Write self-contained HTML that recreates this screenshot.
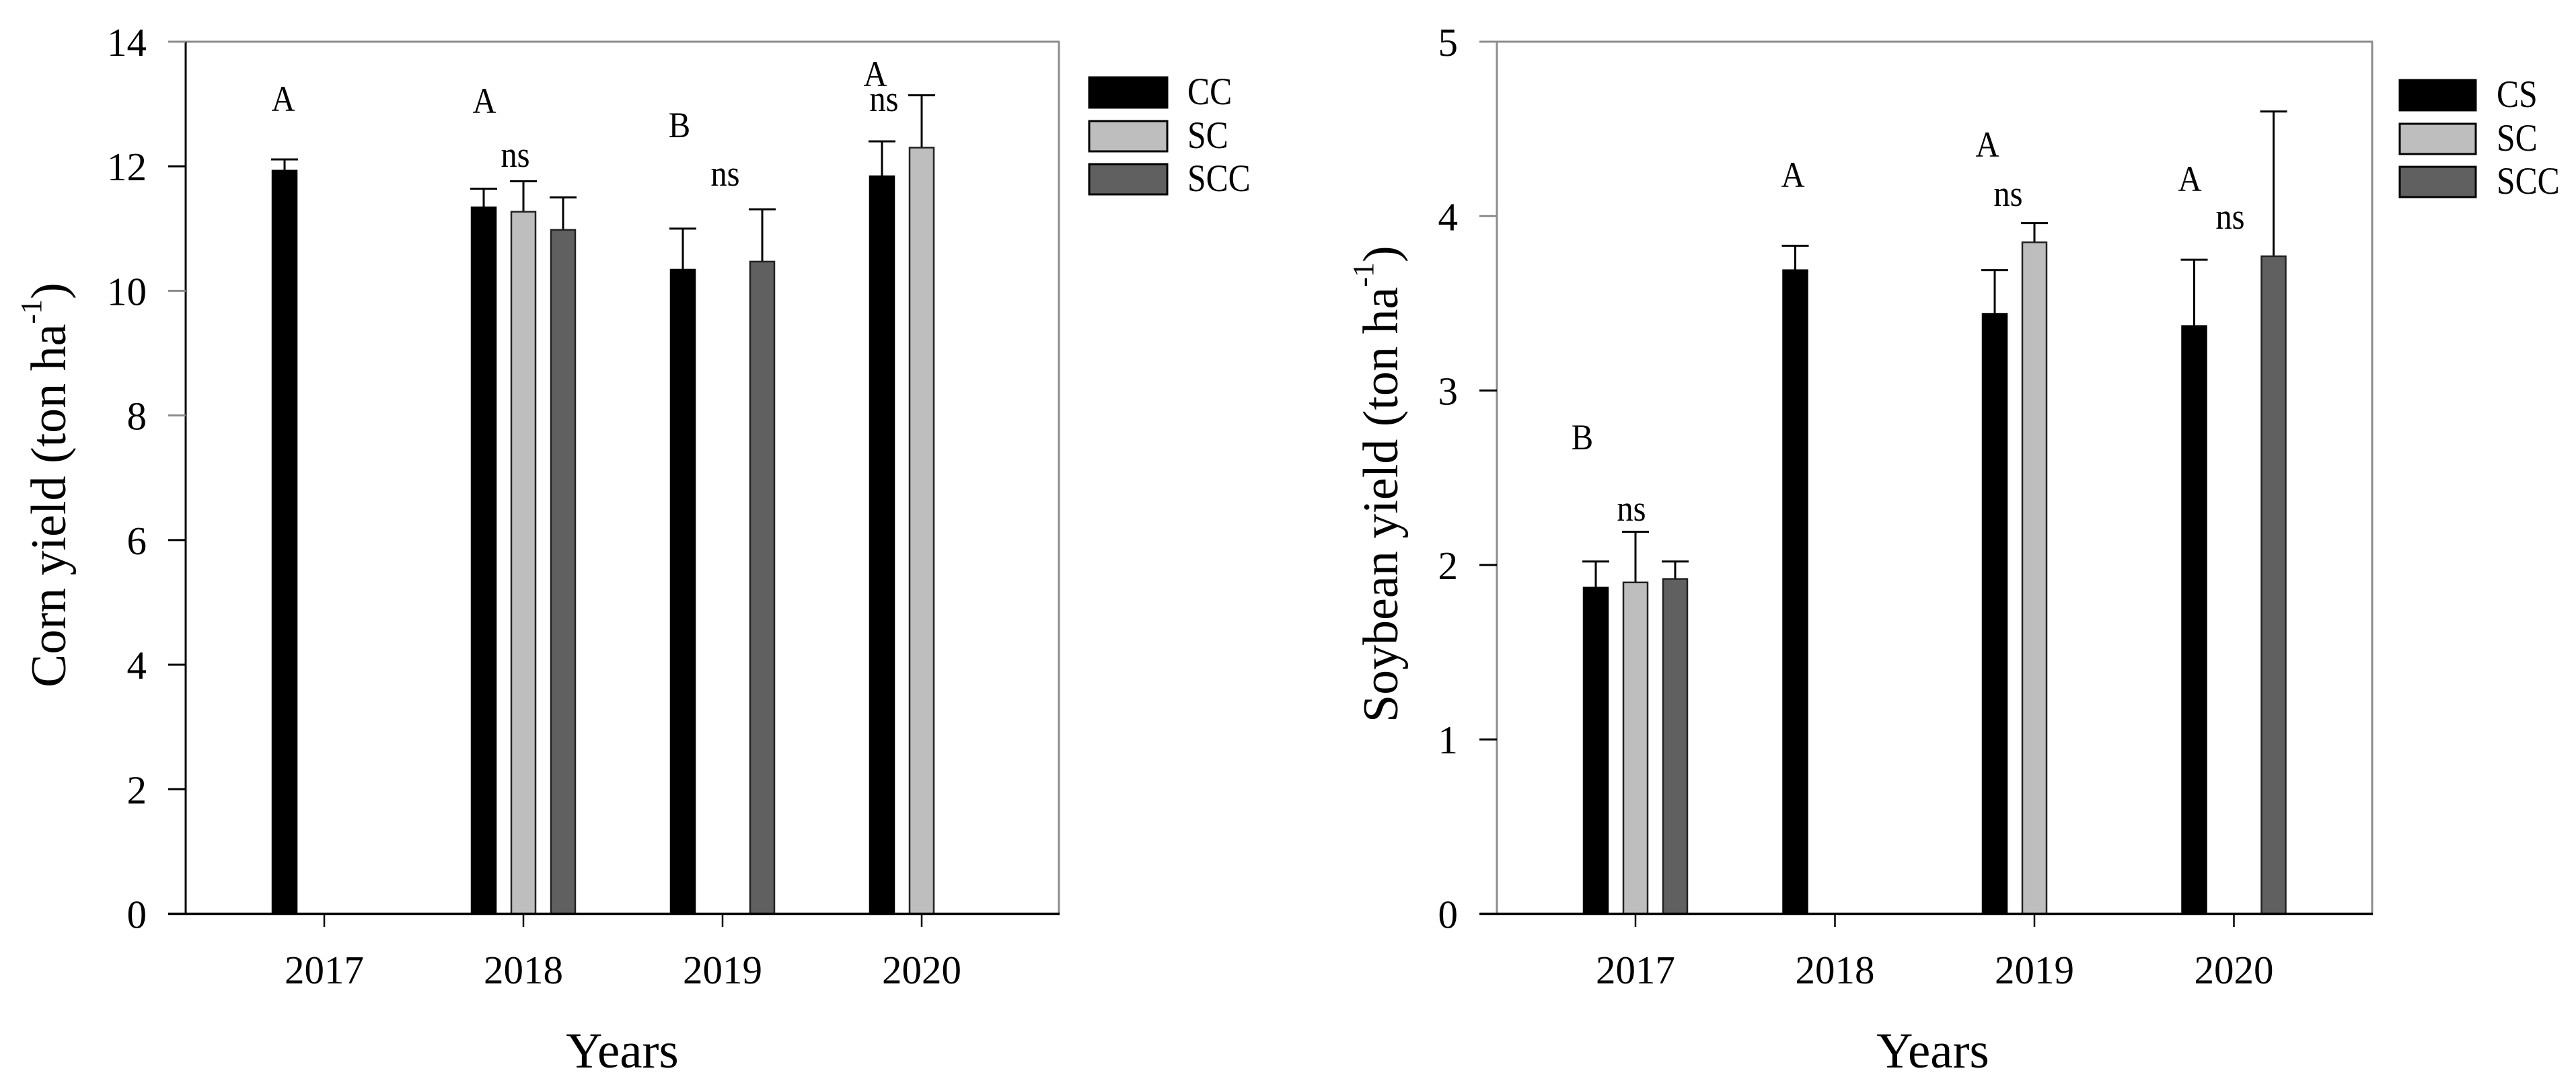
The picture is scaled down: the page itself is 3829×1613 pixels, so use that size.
<!DOCTYPE html>
<html lang="en">
<head>
<meta charset="utf-8">
<title>Corn and soybean yield by year</title>
<style>
html,body{margin:0;padding:0;background:#fff;}
svg{display:block;}
text{font-family:"Liberation Serif","Times New Roman",serif;fill:#000;}
.tick{font-size:59px;}
.note{font-size:54px;}
.legend{font-size:57px;}
.title{font-size:74px;}
.xtitle{font-size:75px;}
</style>
</head>
<body>
<svg id="figure" xmlns="http://www.w3.org/2000/svg" width="3829" height="1613" viewBox="0 0 3829 1613">
  <rect x="0" y="0" width="3829" height="1613" fill="#fff"/>

  <g id="corn-chart">
    <text class="title" transform="translate(97,1022) rotate(-90)">Corn yield (ton ha<tspan font-size="44" dy="-36">-1</tspan><tspan dy="36">)</tspan></text>
    <text class="xtitle" x="925" y="1587" text-anchor="middle">Years</text>
    <text class="note" x="421" y="165" text-anchor="middle">A</text>
    <text class="note" x="720" y="168" text-anchor="middle">A</text>
    <text class="note" x="766" y="248" text-anchor="middle">ns</text>
    <text class="note" x="1010" y="204" text-anchor="middle">B</text>
    <text class="note" x="1078" y="276" text-anchor="middle">ns</text>
    <text class="note" x="1301" y="128" text-anchor="middle">A</text>
    <text class="note" x="1314" y="165" text-anchor="middle">ns</text>
  </g>

  <g id="soy-chart">
    <text class="title" transform="translate(2077,1074) rotate(-90)">Soybean yield (ton ha<tspan font-size="44" dy="-36">-1</tspan><tspan dy="36">)</tspan></text>
    <text class="xtitle" x="2873" y="1587" text-anchor="middle">Years</text>
    <text class="note" x="2352" y="668" text-anchor="middle">B</text>
    <text class="note" x="2425" y="774" text-anchor="middle">ns</text>
    <text class="note" x="2665" y="278" text-anchor="middle">A</text>
    <text class="note" x="2954" y="233" text-anchor="middle">A</text>
    <text class="note" x="2985" y="306" text-anchor="middle">ns</text>
    <text class="note" x="3255" y="284" text-anchor="middle">A</text>
    <text class="note" x="3315" y="340" text-anchor="middle">ns</text>
  </g>
</svg>

<script>
const years = ['2017', '2018', '2019', '2020'];

const cornTicks = [0, 2, 4, 6, 8, 10, 12, 14];
const cornLegend = ['CC', 'SC', 'SCC'];
const cornCC = [11.93, 11.34, 10.34, 11.84];
const cornCCUpper = [12.11, 11.64, 11.0, 12.4];
const cornSC = [null, 11.27, null, 12.3];
const cornSCUpper = [null, 11.76, null, 13.14];
const cornSCC = [null, 10.98, 10.47, null];
const cornSCCUpper = [null, 11.5, 11.31, null];

const soyTicks = [0, 1, 2, 3, 4, 5];
const soyLegend = ['CS', 'SC', 'SCC'];
const soyCS = [1.87, 3.69, 3.44, 3.37];
const soyCSUpper = [2.02, 3.83, 3.69, 3.75];
const soySC = [1.9, null, 3.85, null];
const soySCUpper = [2.19, null, 3.96, null];
const soySCC = [1.92, null, null, 3.77];
const soySCCUpper = [2.02, null, null, 4.6];

const NS = 'http://www.w3.org/2000/svg';
const FILLS = ['#000000', '#bebebe', '#606060'];
const GRAY = '#8c8c8c';

function make(parent, tag, attrs) {
  const el = document.createElementNS(NS, tag);
  Object.keys(attrs).forEach(function (k) { el.setAttribute(k, attrs[k]); });
  parent.appendChild(el);
  return el;
}

function drawChart(cfg) {
  const g = document.getElementById(cfg.id);
  const top = 62, bottom = 1358.5;
  const yScale = function (v) { return bottom - (v / cfg.yMax) * (bottom - top); };
  const xScale = function (i) { return cfg.x0 + i * cfg.step; };
  const offsets = [-59, 0, 59];

  // plot frame
  const frameTop = make(g, 'line', {x1: cfg.left - 26, x2: cfg.right + 1, y1: top, y2: top, stroke: GRAY, 'stroke-width': 3});
  
  
  const frameRight = make(g, 'line', {x1: cfg.right, x2: cfg.right, y1: top, y2: bottom, stroke: GRAY, 'stroke-width': 3});
  
  
  const yAxis = make(g, 'line', {x1: cfg.left, x2: cfg.left, y1: top, y2: bottom, stroke: cfg.axisColor, 'stroke-width': 3});
  
  

  // y ticks
  cfg.yTicks.forEach(function (t) {
    const y = yScale(t);
    const tick = make(g, 'line', {x1: cfg.left - 26, x2: cfg.left, y1: y, y2: y, stroke: cfg.grayTicks.indexOf(t) >= 0 ? GRAY : '#000', 'stroke-width': 3});
    
    
    const label = make(g, 'text', {x: cfg.left - 58, y: y + 21, 'text-anchor': 'end', class: 'tick'});
    
    
    label.textContent = t;
  });

  // bars with error bars
  cfg.series.forEach(function (values, s) {
    values.forEach(function (v, i) {
      if (v === null) return;
      const cx = xScale(i) + offsets[s];
      const yTop = yScale(v);
      const yUp = yScale(cfg.upper[s][i]);
      const stem = make(g, 'line', {x1: cx, x2: cx, y1: yUp, y2: yTop, stroke: '#000', 'stroke-width': 3});
      
      
      const cap = make(g, 'line', {x1: cx - 20, x2: cx + 20, y1: yUp, y2: yUp, stroke: '#000', 'stroke-width': 3});
      
      
      const bar = make(g, 'rect', {x: cx - 18, y: yTop, width: 36, height: bottom - yTop, fill: FILLS[s], stroke: s === 0 ? '#000' : '#222', 'stroke-width': 2.5});
      
      
    });
  });

  // x axis
  const xAxis = make(g, 'line', {x1: cfg.left - 26, x2: cfg.right + 1, y1: bottom, y2: bottom, stroke: '#000', 'stroke-width': 3.5});
  
  
  years.forEach(function (yr, i) {
    const x = xScale(i);
    const tick = make(g, 'line', {x1: x, x2: x, y1: bottom, y2: 1378, stroke: '#000', 'stroke-width': 2.5});
    
    
    const label = make(g, 'text', {x: x, y: 1462, 'text-anchor': 'middle', class: 'tick'});
    
    
    label.textContent = yr;
  });

  // legend
  cfg.legend.forEach(function (name, s) {
    const box = cfg.legendBoxes[s];
    const swatch = make(g, 'rect', {x: cfg.legendX, y: box, width: cfg.legendW, height: 45, fill: FILLS[s], stroke: '#000', 'stroke-width': 3});
    
    
    const label = make(g, 'text', {x: cfg.legendTextX, y: box + 40, class: 'legend'});
    
    
    label.textContent = name;
  });
}

drawChart({
  id: 'corn-chart', prefix: 'corn', yMax: 14, yTicks: cornTicks,
  left: 276, right: 1574, x0: 482, step: 296, axisColor: '#000', grayTicks: [14, 10, 8],
  series: [cornCC, cornSC, cornSCC], upper: [cornCCUpper, cornSCUpper, cornSCCUpper],
  legend: cornLegend, legendX: 1619, legendW: 116, legendBoxes: [115, 180, 244], legendTextX: 1765
});

drawChart({
  id: 'soy-chart', prefix: 'soybean', yMax: 5, yTicks: soyTicks,
  left: 2225, right: 3526, x0: 2431, step: 296.5, axisColor: GRAY, grayTicks: [5, 4],
  series: [soyCS, soySC, soySCC], upper: [soyCSUpper, soySCUpper, soySCCUpper],
  legend: soyLegend, legendX: 3567, legendW: 113, legendBoxes: [119, 184, 248], legendTextX: 3711
});

// the reference text is slightly condensed horizontally
document.querySelectorAll('.note, .legend').forEach(function (t) {
  const factor = t.classList.contains('legend') ? 0.87 : 0.9;
  t.setAttribute('textLength', (t.getComputedTextLength() * factor).toFixed(1));
  t.setAttribute('lengthAdjust', 'spacingAndGlyphs');
});
</script>
</body>
</html>
